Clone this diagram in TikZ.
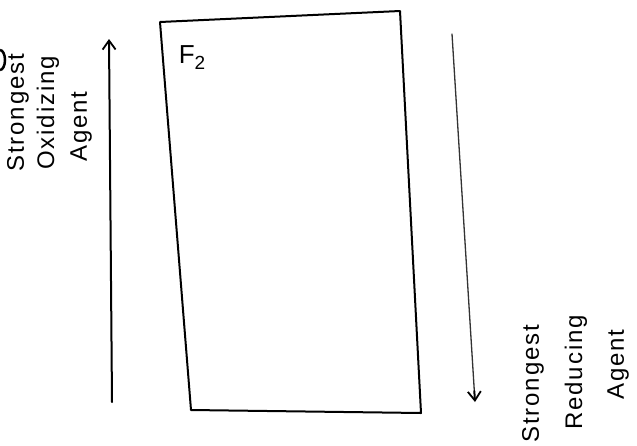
\documentclass[tikz,border=0pt]{standalone}
\usepackage{fontspec}
\setmainfont{Liberation Sans}
\newfontfamily\spaced[LetterSpace=8]{Liberation Sans}
\usetikzlibrary{arrows.meta,calc}
\begin{document}
\begin{tikzpicture}[x=1pt,y=-1pt,
  hand/.style={line width=2pt,line cap=round,line join=round},
  lite/.style={line width=1.3pt,line cap=round,black!80},
  tip/.style={-{Straight Barb[length=9pt,width=13pt,line width=1.8pt]}},
  lbl/.style={rotate=90,anchor=west,inner sep=0pt,font=\spaced\fontsize{24}{24}\selectfont}]
\useasboundingbox (0,0) rectangle (637,445);
% box corners
\coordinate (tl) at (160,22);
\coordinate (tr) at (400,11);
\coordinate (br) at (421,413);
\coordinate (bl) at (191,410);
\draw[hand] (tl) -- (tr) -- (br) -- (bl) -- (tl);
\node[inner sep=0pt] (f2) at (192,58) {\fontsize{26}{26}\selectfont F\fontsize{19}{19}\selectfont\raisebox{-6pt}{2}};
% left arrow
\coordinate (la0) at (112,402);
\coordinate (la1) at (109,39);
\draw[hand,tip] (la0) -- (la1);
% right arrow
\coordinate (ra0) at (452,34);
\coordinate (ra1) at (475,402);
\draw[lite] (ra0) -- ($(ra0)!0.97!(ra1)$) coordinate (ra2);
\draw[hand,tip] (ra2) -- (ra1);
% left labels
\node[lbl] (s1) at (18,172) {Strongest};
\node[lbl] (o1) at (48,170) {Oxidizing};
\node[lbl] (a1) at (81,162) {Agent};
% right labels
\node[lbl] (s2) at (533,443) {Strongest};
\node[lbl] (r2) at (576,430) {Reducing};
\node[lbl] (a2) at (618,400) {Agent};
% fragment at left edge
\draw[line width=2.5pt] (0,70) arc (90:-90:5 and 10);
\end{tikzpicture}
\end{document}
